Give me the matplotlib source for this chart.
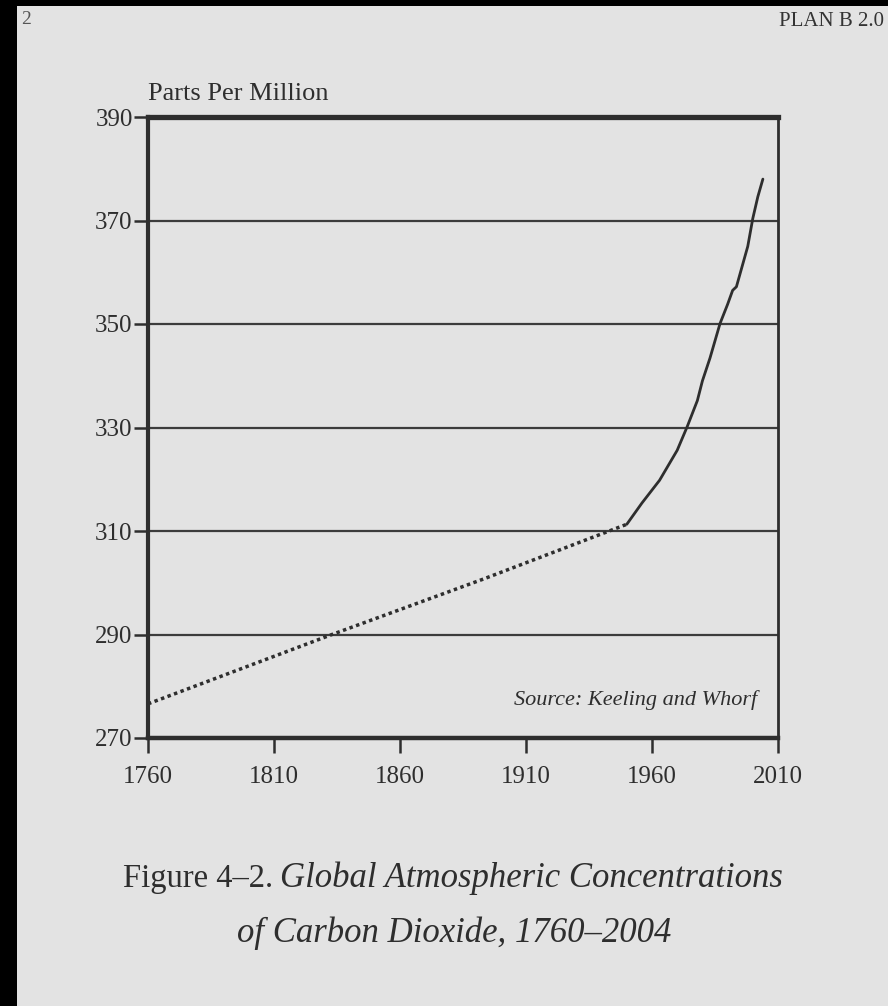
import matplotlib
matplotlib.use("Agg")
import matplotlib.pyplot as plt
from matplotlib.patches import Rectangle

plt.rcParams['font.family'] = ['Liberation Serif', 'DejaVu Serif']

# ice-core estimate (dotted) and Mauna Loa record (solid), ppm
dotted_years = [1760, 1833, 1893, 1950]
dotted_ppm = [276.6, 290.0, 300.7, 311.3]

solid_years = [1950, 1956, 1963, 1970, 1974, 1978, 1980, 1983, 1987, 1990,
               1992, 1993.5, 1995, 1998, 2000, 2002, 2004]
solid_ppm = [311.3, 315.4, 319.8, 325.6, 330.2, 335.2, 339.0, 343.4, 350.1, 353.8,
             356.5, 357.2, 359.8, 365.0, 370.4, 374.6, 378.0]

x_ticks = [1760, 1810, 1860, 1910, 1960, 2010]
y_ticks = [270, 290, 310, 330, 350, 370, 390]

paper = '#e3e3e3'
ink = '#2e2e2e'
W, H = 888, 1006

fig = plt.figure(figsize=(W / 100, H / 100), dpi=100, facecolor=paper)
ax = fig.add_axes([148 / W, 1 - 738 / H, 630 / W, 621 / H])
ax.set_facecolor(paper)

ax.plot(dotted_years, dotted_ppm, color=ink, lw=2.5, linestyle=(0, (1, 1)),
        dash_capstyle='butt', zorder=3)
ax.plot(solid_years, solid_ppm, color=ink, lw=2.0, solid_capstyle='round', zorder=3)

ax.set_xlim(1760, 2010)
ax.set_ylim(270, 390)
ax.set_xticks(x_ticks)
ax.set_yticks(y_ticks)
ax.yaxis.grid(True, color='#3c3c3c', lw=1.6)
ax.set_axisbelow(True)

for side, w in [('left', 3.0), ('bottom', 3.2), ('top', 3.8), ('right', 2.0)]:
    ax.spines[side].set_linewidth(w)
    ax.spines[side].set_color(ink)

ax.tick_params(axis='both', direction='out', color=ink, width=1.8, labelsize=18,
               labelcolor=ink)
ax.tick_params(axis='y', length=10, pad=1)
ax.tick_params(axis='x', length=11, pad=9)

ax.text(0.0, 1.0 + 17 / 621, 'Parts Per Million', transform=ax.transAxes,
        fontsize=19, color=ink, ha='left', va='baseline')
ax.text(757 / W, 1 - 705 / H, 'Source: Keeling and Whorf', transform=fig.transFigure,
        fontsize=16, style='italic', color=ink, ha='right', va='baseline')

# caption
fig.text(123 / W, 1 - 887 / H, 'Figure 4\u20132.', fontsize=23.5, color=ink,
         ha='left', va='baseline')
fig.text(280 / W, 1 - 887 / H, 'Global Atmospheric Concentrations', fontsize=25,
         style='italic', color=ink, ha='left', va='baseline')
fig.text(454 / W, 1 - 942 / H, 'of Carbon Dioxide, 1760\u20132004', fontsize=25,
         style='italic', color=ink, ha='center', va='baseline')

# page header of the scanned page
fig.text(884 / W, 1 - 26 / H, 'PLAN B 2.0', fontsize=15, color='#333333',
         ha='right', va='baseline')
fig.text(21 / W, 1 - 24 / H, '2', fontsize=14, color='#555555', ha='left', va='baseline')

# dark scanner edges
fig.patches.append(Rectangle((0, 0), 17 / W, 1, transform=fig.transFigure,
                             facecolor='black', edgecolor='none', zorder=10))
fig.patches.append(Rectangle((0, 1 - 6 / H), 1, 6 / H, transform=fig.transFigure,
                             facecolor='black', edgecolor='none', zorder=10))

fig.savefig('out.png', dpi=100, facecolor=paper)
